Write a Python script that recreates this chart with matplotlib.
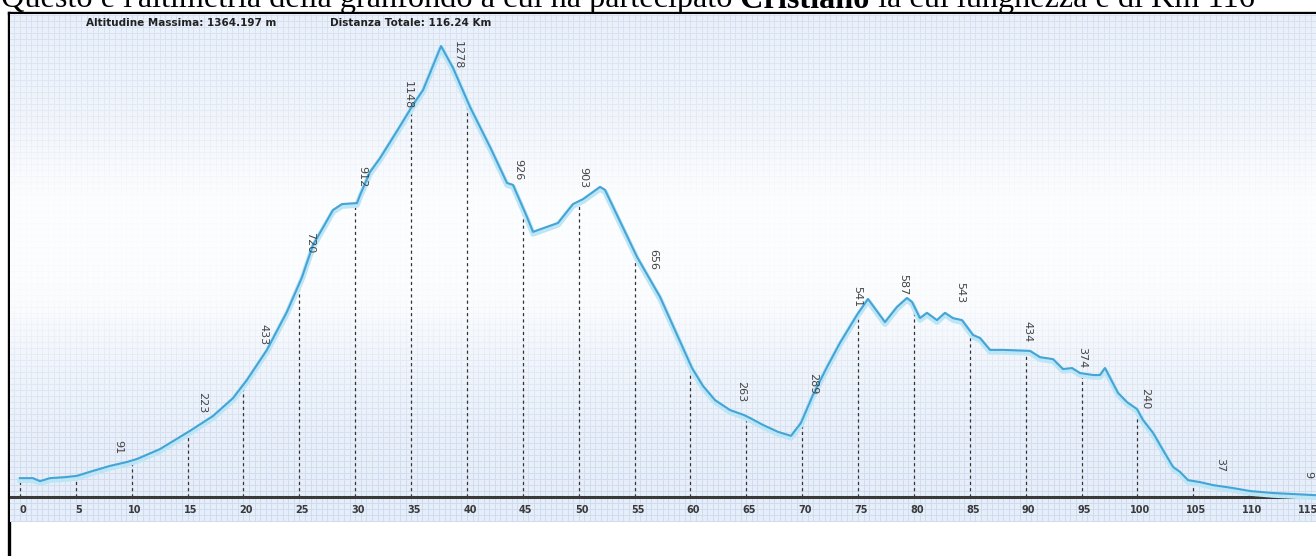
import numpy as np
import matplotlib
matplotlib.use("Agg")
import matplotlib.pyplot as plt
import matplotlib.transforms as mtransforms
from matplotlib.ticker import MultipleLocator, NullLocator

W, H = 1316, 556

# altimetria: distanza (km) e quota (m)
km = [0, 1.16, 1.79, 2.68, 4.03, 5.10, 6.53, 8.05, 9.58, 10.47,
      12.53, 15.21, 17.27, 19.06, 20.31, 22.10, 23.89, 25.24, 26.22, 28.01,
      28.82, 30.16, 30.43, 31.32, 32.22, 33.74, 35.17, 36.07, 37.68, 38.75,
      40.27, 42.06, 43.58, 44.12, 45.37, 45.91, 48.15, 49.49, 50.39, 51.91,
      52.35, 55.22, 57.28, 60.14, 61.12, 62.20, 63.54, 64.79, 65.33, 66.49,
      67.84, 69.00, 69.89, 70.97, 72.22, 73.38, 74.91, 75.89, 77.41, 78.49,
      79.38, 79.83, 80.54, 81.17, 82.06, 82.78, 83.50, 84.30, 85.29, 85.91,
      86.81, 87.97, 90.39, 91.28, 92.45, 93.34, 94.15, 94.86, 96.03, 96.65,
      97.10, 98.26, 99.07, 99.96, 100.50, 101.40, 102.29, 103.19, 103.81, 104.53,
      105.60, 106.77, 108.56, 110.08, 112.14, 113.93, 116.24]
quota = [57, 57, 48, 57, 60, 64, 79, 94, 106, 115,
         145, 200, 245, 299, 354, 445, 560, 665, 762, 868,
         886, 889, 913, 983, 1025, 1107, 1186, 1231, 1364, 1298,
         1180, 1059, 950, 944, 847, 802, 829, 886, 901, 938,
         929, 726, 605, 390, 336, 293, 263, 248, 239, 218,
         197, 185, 224, 309, 393, 466, 551, 599, 529, 575,
         602, 590, 541, 557, 535, 557, 541, 535, 490, 481,
         445, 445, 442, 423, 417, 387, 390, 375, 369, 369,
         390, 315, 287, 266, 233, 194, 142, 91, 76, 51,
         45, 36, 27, 18, 12, 9, 5]

# marcatori ogni 5 km
marks = list(range(0, 120, 5))
mark_labels = [str(m) for m in marks]

# etichette di quota (ruotate)
label_km = [8.77, 16.29, 21.75, 25.95, 30.61, 34.72, 39.20, 44.57, 50.38, 56.65,
            64.52, 70.97, 74.91, 79.02, 84.12, 90.12, 95.04, 100.68, 107.39, 115.27]
label_m = [151, 284, 490, 768, 968, 1216, 1337, 989, 965, 717,
           318, 342, 605, 641, 617, 499, 423, 299, 97, 67]
label_txt = ["91", "223", "433", "720", "912", "1148", "1278", "926", "903", "656",
             "263", "289", "541", "587", "543", "434", "374", "240", "37", "9"]

header_left = "Altitudine Massima: 1364.197 m"
header_right = "Distanza Totale: 116.24 Km"
title_parts = ["Questo è l'altimetria della granfondo a cui ha partecipato",
               " Cristiano", " la cui lunghezza è di Km 116"]

fig = plt.figure(figsize=(W / 100, H / 100), dpi=100)
fig.patch.set_facecolor("white")

# cornice nera (sinistra e sopra)
frame = fig.add_axes([9 / W, 0, 1 - 9 / W, (H - 13) / H])
frame.set_xticks([])
frame.set_yticks([])
frame.set_facecolor("white")
for s in ["right", "bottom"]:
    frame.spines[s].set_visible(False)
for s in ["left", "top"]:
    frame.spines[s].set_linewidth(2.4)
    frame.spines[s].set_color("black")

# area del grafico
px_km = 55.87 / 5
px_m = 0.3306
ax = fig.add_axes([10 / W, (H - 522) / H, (W - 10) / W, (522 - 14) / H])
ax.set_xlim((10 - 20) / px_km, (1316 - 20) / px_km)
ax.set_ylim((497 - 522) / px_m, (497 - 14) / px_m)
ax.set_facecolor("#e6eef9")
for s in ax.spines.values():
    s.set_visible(False)
ax.xaxis.set_major_locator(NullLocator())
ax.yaxis.set_major_locator(NullLocator())
ax.xaxis.set_minor_locator(MultipleLocator(0.5))
ax.yaxis.set_minor_locator(MultipleLocator(18))
ax.tick_params(which="both", length=0, labelleft=False, labelbottom=False)
ax.set_axisbelow(True)
ax.grid(which="minor", color="#cfdbee", lw=0.7)

# velatura bianca al centro
rows = np.linspace(0, 1, 300)
alpha = np.interp(rows, [0, 0.2, 0.37, 0.56, 0.68, 0.85, 1.0],
                  [0.15, 0.45, 0.92, 0.88, 0.45, 0.1, 0.0])
grad = np.ones((300, 2, 4))
grad[:, :, 3] = alpha[:, None]
ax.imshow(grad, extent=[0, 1, 0, 1], transform=ax.transAxes, aspect="auto",
          origin="upper", zorder=0.8, interpolation="bilinear")

# linea di base
ax.axhline(0, color="#3a3a3a", lw=2.2, zorder=3)

# linee tratteggiate ogni 5 km
for m in marks:
    top = np.interp(m, km, quota)
    ax.vlines(m, 0, top, colors="#333333", linestyles=(0, (2.5, 2.5)), lw=0.9, zorder=2)

# profilo
halo = mtransforms.offset_copy(ax.transData, fig=fig, x=0, y=-2, units="dots")
ax.plot(km, quota, color="#bce5f6", lw=4.0, transform=halo, zorder=4,
        solid_joinstyle="round")
ax.plot(km, quota, color="#45a4d6", lw=1.5, zorder=5, solid_joinstyle="round")

# etichette quota
for k, m, t in zip(label_km, label_m, label_txt):
    ax.text(k, m, t, rotation=-90, ha="center", va="center", fontsize=8,
            color="#444444", zorder=6)

# etichette km
lab_tr = mtransforms.offset_copy(ax.transData, fig=fig, x=3, y=0, units="dots")
for m, t in zip(marks, mark_labels):
    ax.text(m, (497 - 510) / px_m, t, ha="center", va="center", fontsize=7,
            weight="bold", color="#3a3a3a", transform=lab_tr, zorder=6,
            clip_on=False)

# intestazione
fig.text(86 / W, 1 - 23 / H, header_left, fontsize=7.5, weight="bold",
         color="#222222", va="center", ha="left")
fig.text(330 / W, 1 - 23 / H, header_right, fontsize=7.5, weight="bold",
         color="#222222", va="center", ha="left")

# titolo tagliato in alto
r = fig.canvas.get_renderer()
x = 1
yb = 1 - 7.5 / H
for i, part in enumerate(title_parts):
    t = fig.text(x / W, yb, part, fontsize=23.2, family="Liberation Serif",
                 weight="bold" if i == 1 else "normal", va="baseline", ha="left",
                 color="black")
    bb = t.get_window_extent(r)
    x = bb.x1

fig.savefig("out.png", dpi=100, facecolor="white")
